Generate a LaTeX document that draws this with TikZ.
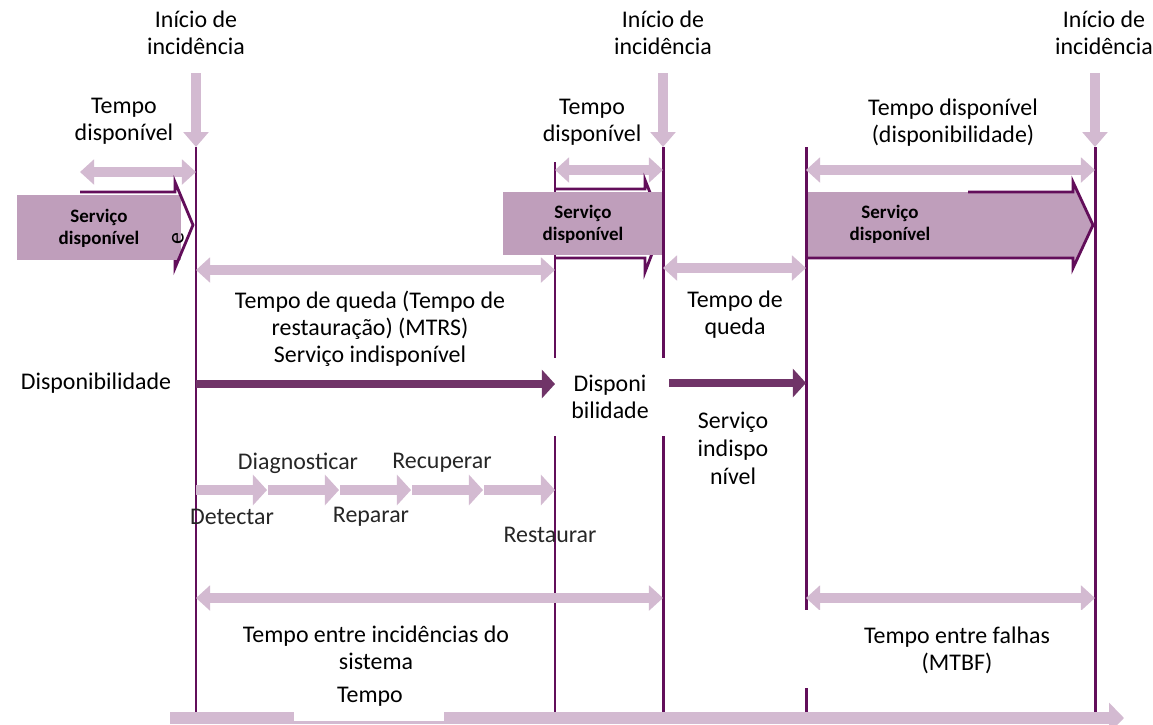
\documentclass[tikz,border=0pt]{standalone}
\usepackage{fontspec}
\setmainfont{Carlito}
\usetikzlibrary{positioning, calc, arrows.meta}

\definecolor{lineplum}{RGB}{98,14,90}
\definecolor{arrowplum}{RGB}{112,52,104}
\definecolor{lilac}{RGB}{211,186,209}
\definecolor{svcfill}{RGB}{191,158,187}

\tikzset{
  eventline/.style={lineplum, line width=1.7pt},
  lilacdouble/.style={lilac, line width=5.5pt, {Triangle[length=8pt,width=14pt]}-{Triangle[length=8pt,width=14pt]}},
  lilacdown/.style={lilac, line width=5.5pt, -{Triangle[length=8.5pt,width=14pt]}},
  plumarrow/.style={arrowplum, line width=4.5pt, -{Triangle[length=7.5pt,width=16pt]}},
  steparrow/.style={lilac, line width=5.5pt, -{Triangle[length=8pt,width=17pt]}},
  timearrow/.style={lilac, line width=6.8pt, -{Triangle[length=8.5pt,width=17pt]}},
  svcedge/.style={lineplum, line width=1.6pt, line join=miter},
  lbl/.style={font=\fontsize{13.6}{15.3}\selectfont, align=center, inner sep=1pt},
  svclbl/.style={font=\fontsize{10.8}{12.5}\selectfont\bfseries, align=center, inner sep=1pt},
  steplbl/.style={font=\fontsize{13.6}{15}\selectfont, text=black!85, inner sep=1pt},
}

\begin{document}
\begin{tikzpicture}[x=0.02cm, y=-0.02cm]
\useasboundingbox (0,0) rectangle (1153,724);

% event lines
\foreach \n/\x/\y in {1/196/147, 2/555/162, 3/663/147, 4/806/147, 5/1095/147}{
  \coordinate (top\n) at (\x,\y);
  \coordinate (bot\n) at (\x,712);
}

% time axis
\coordinate (axisL) at (170,718);
\coordinate (axisR) at (1124,718);
\draw[timearrow] (axisL) -- (axisR);

\foreach \n in {1,...,5}
  \draw[eventline] (top\n) -- (bot\n);

% incidents
\node[lbl] (inc1) at (196,33) {Início de\\incidência};
\node[lbl] (inc2) at (663,33) {Início de\\incidência};
\node[lbl] (inc3) at (1104,33) {Início de\\incidência};
\draw[lilacdown] (top1 |- 0,73) -- (top1);
\draw[lilacdown] (top3 |- 0,73) -- (top3);
\draw[lilacdown] (top5 |- 0,73) -- (top5);

% available time
\node[lbl] (avail1) at (124,121) {Tempo\\disponível};
\node[lbl] (avail2) at (592,122) {Tempo\\disponível};
\node[lbl] (avail3) at (953,123) {Tempo disponível\\(disponibilidade)};
\coordinate (spanL) at (80,172);
\draw[lilacdouble] (spanL) -- (top1 |- spanL);
\draw[lilacdouble] (top2 |- 0,170) -- (top3 |- 0,170);
\draw[lilacdouble] (top4 |- 0,170) -- (top5 |- 0,170);

% service arrows
\fill[svcfill] (17,195) rectangle (181,260);
\draw[svcedge] (80,192) -- (175,192) -- (175,182) -- (193,225) -- (175,268) -- (175,260);
\node[svclbl] (svc1) at (99,228) {Serviço\\disponível};
\node[lbl, rotate=90] (stray) at (178,239) {e};

\draw[svcedge] (top2 |- 0,189) -- (645,189) -- (645,180) -- (663,225) -- (645,272) -- (645,258) -- (top2 |- 0,258);
\fill[svcfill] (503,192) rectangle (662,255);
\node[svclbl] (svc2) at (583,224) {Serviço\\disponível};

\fill[svcfill] (808,192) -- (1073,192) -- (1073,182) -- (1093,225) -- (1073,268) -- (1073,258) -- (808,258) -- cycle;
\draw[svcedge] (968,192) -- (1073,192) -- (1073,182) -- (1093,225) -- (1073,268) -- (1073,258) -- (808,258);
\node[svclbl] (svc3) at (890,224) {Serviço\\disponível};

% downtime
\draw[lilacdouble] (top1 |- 0,270) -- (top2 |- 0,270);
\draw[lilacdouble] (top3 |- 0,268) -- (top4 |- 0,268);
\node[lbl] (down1) at (370,329) {Tempo de queda (Tempo de\\restauração) (MTRS)\\Serviço indisponível};
\node[lbl] (down2) at (735,315) {Tempo de\\queda};

% availability row
\node[lbl] (availrow) at (96,383) {Disponibilidade};
\fill[white] (552,358) rectangle (666,436);
\node[lbl] (availmid) at (610,397) {Disponi\\bilidade};
\draw[plumarrow] (top1 |- 0,384) -- (top2 |- 0,384);
\draw[plumarrow] (669,383) -- (top4 |- 0,383);
\node[lbl, font=\fontsize{13.6}{16}\selectfont] (unavail) at (733,448) {Serviço\\indispo\\nível};

% restore steps
\foreach \x in {196,268,340,412,484}
  \draw[steparrow] (\x,490) -- ++(71,0);
\node[steplbl] (diag) at (298,463) {Diagnosticar};
\node[steplbl] (recup) at (442,463) {Recuperar};
\node[steplbl] (detect) at (232,517) {Detectar};
\node[steplbl] (repar) at (371,517) {Reparar};
\node[steplbl] (resta) at (550,535) {Restaurar};

% between failures
\draw[lilacdouble] (top1 |- 0,598) -- (top3 |- 0,598);
\draw[lilacdouble] (top4 |- 0,598) -- (top5 |- 0,598);
\node[lbl] (between1) at (376,648) {Tempo entre incidências do\\sistema};
\fill[white] (803,610) rectangle (1092,688);
\node[lbl] (between2) at (957,650) {Tempo entre falhas\\(MTBF)};
\fill[white] (294,676) rectangle (444,721);
\node[lbl] (axislbl) at (370,697) {Tempo};
\end{tikzpicture}
\end{document}
